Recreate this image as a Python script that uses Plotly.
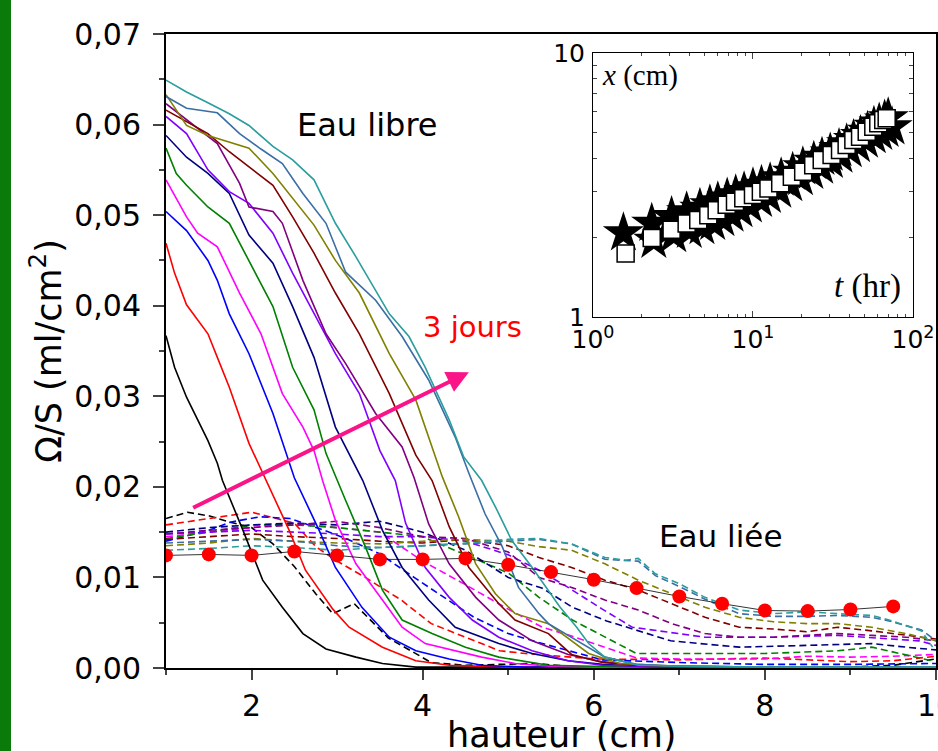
import plotly.graph_objects as go

# ---------------- main chart data ----------------
colors = ["#000000", "#ff0000", "#0000ff", "#ff00ff", "#008000", "#000080",
          "#8000ff", "#800080", "#800000", "#808000", "#3a6ea5", "#2a9d9d"]

solid_x = [
    [1.0,1.10,1.24,1.37,1.49,1.60,1.66,1.90,2.05,2.13,2.36,2.60,2.87,3.22,3.53,3.92,4.5,5,6,7,8,9,10],
    [1.0,1.10,1.24,1.49,1.60,1.74,1.97,2.16,2.44,2.63,2.95,3.14,3.53,3.92,4.31,5,6,7,8,9,10],
    [1.0,1.24,1.49,1.60,1.74,1.97,2.25,2.50,2.79,2.98,3.29,3.61,3.92,4.31,4.69,5.2,6,7,8,9,10],
    [1.0,1.24,1.37,1.60,1.86,2.11,2.36,2.60,2.73,2.83,2.98,3.22,3.53,3.76,4.03,4.38,4.69,5.08,5.5,6,7,8,9,10],
    [1.0,1.12,1.24,1.49,1.74,1.97,2.25,2.48,2.73,2.87,3.0,3.10,3.33,3.53,3.76,4.11,4.50,4.89,5.47,6,7,8,9,10],
    [1.0,1.24,1.49,1.74,1.97,2.25,2.48,2.73,2.98,3.30,3.53,3.76,4.07,4.38,4.89,5.28,5.7,6.1,6.5,7,8,9,10],
    [1.0,1.24,1.49,1.74,1.97,2.25,2.48,2.73,2.98,3.26,3.50,3.68,3.80,4.03,4.31,4.58,4.89,5.28,5.7,6.1,6.5,7,8,9,10],
    [1.0,1.24,1.60,1.86,1.97,2.25,2.36,2.60,2.87,3.10,3.45,3.76,3.90,4.07,4.31,4.62,4.89,5.28,5.7,6.1,6.5,7,8,9,10],
    [1.0,1.24,1.49,1.74,1.97,2.25,2.48,2.73,2.98,3.26,3.61,3.92,4.11,4.31,4.54,4.89,5.08,5.47,5.74,6.1,6.5,7,8,9,10],
    [1.0,1.24,1.49,1.74,1.97,2.25,2.48,2.73,2.98,3.26,3.61,3.92,4.23,4.42,4.62,4.85,5.08,5.47,5.94,6.3,7,8,9,10],
    [1.0,1.24,1.60,1.86,2.11,2.36,2.60,2.87,3.10,3.45,3.76,4.07,4.38,4.54,4.73,4.93,5.12,5.36,5.47,5.74,6.13,6.5,7,8,9,10],
    [1.0,1.24,1.49,1.74,1.97,2.25,2.48,2.73,2.98,3.22,3.61,3.84,4.03,4.31,4.48,4.69,4.85,5.04,5.28,5.47,5.6,5.8,5.94,6.13,6.52,7,8,9,10],
]
solid_y = [
    [0.0367,0.0332,0.0299,0.0274,0.0251,0.0226,0.0207,0.0152,0.0115,0.0097,0.0067,0.0038,0.0021,0.0012,0.0005,0.0001,0.0001,0.0001,0.0001,0.0001,0.0001,0.0001,0.0001],
    [0.0469,0.0436,0.0401,0.0369,0.0343,0.0310,0.0248,0.0209,0.0152,0.0108,0.0065,0.0045,0.0023,0.0008,0.0003,0.0001,0.0001,0.0001,0.0001,0.0001,0.0001],
    [0.0504,0.0483,0.0450,0.0428,0.0391,0.0347,0.0281,0.0210,0.0152,0.0111,0.0067,0.0034,0.0019,0.0010,0.0003,0.0001,0.0001,0.0001,0.0001,0.0001,0.0001],
    [0.0539,0.0498,0.0480,0.0465,0.0414,0.0369,0.0303,0.0266,0.0240,0.0207,0.0163,0.0115,0.0075,0.0045,0.0027,0.0019,0.0012,0.0005,0.0002,0.0001,0.0001,0.0001,0.0001,0.0001],
    [0.0574,0.0546,0.0533,0.0509,0.0491,0.0450,0.0399,0.0332,0.0285,0.0237,0.0207,0.0185,0.0134,0.0086,0.0053,0.0038,0.0023,0.0012,0.0003,0.0002,0.0001,0.0001,0.0001,0.0001],
    [0.0588,0.0564,0.0546,0.0524,0.0478,0.0447,0.0399,0.0343,0.0266,0.0207,0.0152,0.0111,0.0075,0.0045,0.0027,0.0016,0.0008,0.0004,0.0002,0.0001,0.0001,0.0001,0.0001],
    [0.0609,0.0590,0.0550,0.0526,0.0513,0.0480,0.0436,0.0391,0.0347,0.0303,0.0240,0.0207,0.0160,0.0111,0.0078,0.0053,0.0034,0.0019,0.0008,0.0003,0.0002,0.0001,0.0001,0.0001,0.0001],
    [0.0623,0.0605,0.0579,0.0535,0.0509,0.0504,0.0491,0.0428,0.0369,0.0336,0.0281,0.0244,0.0210,0.0159,0.0115,0.0078,0.0053,0.0030,0.0015,0.0007,0.0003,0.0002,0.0001,0.0001,0.0001],
    [0.0616,0.0603,0.0590,0.0570,0.0553,0.0533,0.0498,0.0458,0.0414,0.0369,0.0303,0.0235,0.0207,0.0156,0.0111,0.0071,0.0053,0.0038,0.0015,0.0006,0.0003,0.0002,0.0001,0.0001,0.0001],
    [0.0633,0.0599,0.0588,0.0581,0.0574,0.0546,0.0519,0.0489,0.0450,0.0414,0.0347,0.0296,0.0211,0.0167,0.0115,0.0082,0.0060,0.0049,0.0016,0.0005,0.0002,0.0001,0.0001,0.0001],
    [0.0631,0.0618,0.0613,0.0590,0.0573,0.0557,0.0524,0.0491,0.0437,0.0406,0.0366,0.0318,0.0255,0.0215,0.0170,0.0134,0.0089,0.0060,0.0049,0.0034,0.0012,0.0004,0.0002,0.0001,0.0001,0.0001],
    [0.0649,0.0636,0.0624,0.0612,0.0599,0.0576,0.0561,0.0539,0.0491,0.0454,0.0391,0.0366,0.0332,0.0274,0.0233,0.0207,0.0178,0.0141,0.0111,0.0086,0.0068,0.0045,0.0027,0.0012,0.0003,0.0002,0.0001,0.0001,0.0001],
]

dashed_x = [
    [1,1.25,1.5,1.75,2,2.25,2.5,2.75,2.95,3.2,3.4,3.6,3.9,4.1,4.5,5,5.3,5.7,6,7,8,9,9.5,10],
    [1,1.5,2,2.5,2.75,3,3.33,3.75,4.1,4.5,4.9,5.2,6,7,8,9,9.5,10],
    [1,1.5,1.75,2.1,2.45,2.85,3.15,3.5,3.9,4.3,4.6,5.0,5.4,6.1,7,8,9,10],
    [1,1.5,2,2.5,3,3.5,4,4.5,5,5.4,5.75,6.5,7,8,8.5,9,9.5,10],
    [1,1.5,2,2.5,3,3.5,4,4.5,5,5.36,5.75,6.5,7,8,8.85,9.25,9.95],
    [1,1.5,2,2.5,3,3.5,4,4.5,5,5.4,5.75,6.15,6.9,7.7,8.5,9.25,9.65,10],
    [1,1.5,2,2.5,3,3.5,4,4.5,5,5.36,5.7,6.1,6.45,7.3,8.1,8.85,9.8,10],
    [1,1.5,2,2.5,3,3.5,4,4.5,5,5.36,5.74,6.13,6.52,6.91,7.3,7.7,8.1,8.5,8.85,9.25,9.65,10],
    [1,1.5,2,2.5,3,3.5,4,4.5,5,5.36,5.74,6.13,6.52,6.91,7.3,7.7,8.1,8.5,8.85,9.25,9.65,10],
    [1,1.5,2,2.5,3,3.5,4,4.5,5,5.36,5.74,6.13,6.52,6.91,7.3,7.7,8.1,8.5,8.85,9.25,9.65,10],
    [1,1.5,2,2.5,3,3.5,4,4.5,5,5.36,5.74,6.13,6.52,6.72,7,7.3,7.7,8.1,8.5,8.85,9.25,9.45,9.83,10],
    [1,1.5,2,2.5,3,3.5,4,4.5,5,5.36,5.74,6.13,6.37,6.52,6.72,7,7.3,7.7,8.1,8.5,8.85,9.25,9.45,9.83,9.96],
]
dashed_y = [
    [0.0165,0.0172,0.0168,0.0161,0.0155,0.0137,0.0112,0.0082,0.0060,0.0071,0.0052,0.0033,0.0017,0.0006,0.0003,0.0004,0.0005,0.0002,0.0001,0.0001,0.0001,0.0001,0.0003,0.0010],
    [0.0158,0.0165,0.0172,0.0160,0.0134,0.0118,0.0100,0.0075,0.0049,0.0034,0.0019,0.0016,0.0010,0.0009,0.0011,0.0007,0.0008,0.0013],
    [0.0140,0.0152,0.0161,0.0167,0.0165,0.0152,0.0141,0.0126,0.0100,0.0075,0.0056,0.0038,0.0027,0.0009,0.0006,0.0004,0.0004,0.0005],
    [0.0145,0.0150,0.0155,0.0160,0.0155,0.0150,0.0118,0.0092,0.0065,0.0045,0.0035,0.0011,0.0010,0.0010,0.0013,0.0012,0.0013,0.0015],
    [0.0143,0.0150,0.0158,0.0158,0.0155,0.0150,0.0145,0.0125,0.0105,0.0078,0.0053,0.0016,0.0016,0.0016,0.0019,0.0023,0.0008],
    [0.0150,0.0155,0.0158,0.0160,0.0158,0.0162,0.0150,0.0130,0.0100,0.0088,0.0067,0.0052,0.0030,0.0023,0.0025,0.0027,0.0023,0.0020],
    [0.0148,0.0150,0.0152,0.0150,0.0148,0.0145,0.0145,0.0140,0.0125,0.0108,0.0089,0.0065,0.0045,0.0034,0.0034,0.0036,0.0030,0.0025],
    [0.0148,0.0152,0.0155,0.0158,0.0162,0.0155,0.0145,0.0143,0.0128,0.0100,0.0089,0.0075,0.0064,0.0049,0.0038,0.0034,0.0034,0.0036,0.0038,0.0036,0.0034,0.0030],
    [0.0142,0.0145,0.0148,0.0145,0.0143,0.0140,0.0138,0.0142,0.0135,0.0122,0.0111,0.0097,0.0086,0.0071,0.0056,0.0045,0.0043,0.0040,0.0045,0.0041,0.0036,0.0032],
    [0.0135,0.0138,0.0143,0.0140,0.0138,0.0137,0.0140,0.0142,0.0140,0.0134,0.0130,0.0115,0.0097,0.0082,0.0067,0.0056,0.0051,0.0049,0.0049,0.0045,0.0038,0.0030],
    [0.0138,0.0140,0.0142,0.0140,0.0135,0.0133,0.0135,0.0137,0.0140,0.0142,0.0137,0.0120,0.0118,0.0102,0.0090,0.0076,0.0060,0.0057,0.0057,0.0058,0.0056,0.0052,0.0042,0.0030],
    [0.0130,0.0132,0.0135,0.0133,0.0130,0.0133,0.0135,0.0138,0.0142,0.0143,0.0137,0.0122,0.0119,0.0121,0.0104,0.0093,0.0078,0.0064,0.0060,0.0062,0.0060,0.0058,0.0053,0.0041,0.0023],
]

dots_x = [1, 1.5, 2, 2.5, 3, 3.5, 4, 4.5, 5, 5.5, 6, 6.5, 7, 7.5, 8, 8.5, 9, 9.5]
dots_y = [0.01243, 0.01254, 0.01243, 0.01287, 0.01243, 0.01199, 0.01199, 0.01210,
          0.01140, 0.01059, 0.00975, 0.00882, 0.00790, 0.00710, 0.00635, 0.00628,
          0.00646, 0.00680]

y_ticks = [0, 0.01, 0.02, 0.03, 0.04, 0.05, 0.06, 0.07]
x_ticks = [2, 4, 6, 8, 10]

# ---------------- inset data ----------------
t_sq = [1.6, 2.33, 3.1, 3.85, 4.55, 5.26, 5.93, 6.85, 7.72, 8.7, 10.0, 11.2, 12.5, 14.8,
        17.5, 20.6, 23.8, 26.9, 31.0, 35.0, 38.5, 42.4, 46.7, 51.4, 56.5, 60.7, 65.2, 68.5]
x_sq = [1.74, 1.99, 2.14, 2.26, 2.33, 2.43, 2.54, 2.66, 2.73, 2.82, 2.90, 2.98, 3.07, 3.21,
        3.40, 3.55, 3.76, 3.93, 4.11, 4.29, 4.48, 4.68, 4.82, 5.03, 5.26, 5.42, 5.57, 5.66]
t_star_up = [1.55, 2.33, 3.1, 3.85, 4.66, 5.38, 6.03, 6.9, 7.8, 8.8, 10.0, 11.3, 12.8, 15.0,
             17.7, 20.5, 24.0, 27.0, 30.4, 34.5, 38.5, 42.5, 47.0, 52.0, 57.0, 61.5, 66.5, 70.0]
x_star_up = [2.08, 2.26, 2.40, 2.50, 2.58, 2.66, 2.73, 2.82, 2.90, 2.98, 3.08, 3.15, 3.22, 3.36,
             3.53, 3.70, 3.88, 4.02, 4.17, 4.34, 4.52, 4.70, 4.86, 5.05, 5.27, 5.42, 5.57, 5.68]
t_star_low = [2.4, 3.2, 4.0, 4.8, 5.6, 6.4, 7.3, 8.3, 9.5, 11.0, 12.5, 14.5, 17.0, 19.8, 23.0,
              26.5, 30.5, 35.0, 40.0, 45.0, 50.5, 56.5, 62.0, 68.0, 74.0]
x_star_low = [1.95, 2.05, 2.13, 2.20, 2.28, 2.36, 2.45, 2.55, 2.66, 2.79, 2.89, 3.02, 3.20, 3.37,
              3.56, 3.73, 3.92, 4.10, 4.30, 4.50, 4.68, 4.86, 5.00, 5.13, 5.25]

SANS = "DejaVu Sans"
SERIF = "Liberation Serif"

fig = go.Figure()

for i, c in enumerate(colors):
    fig.add_trace(go.Scatter(x=dashed_x[i], y=dashed_y[i], mode="lines",
                             line=dict(color=c, width=1.6, dash="7px,4px"),
                             showlegend=False, hoverinfo="skip"))
for i, c in enumerate(colors):
    fig.add_trace(go.Scatter(x=solid_x[i], y=solid_y[i], mode="lines",
                             line=dict(color=c, width=1.6),
                             showlegend=False, hoverinfo="skip"))

fig.add_trace(go.Scatter(x=dots_x, y=dots_y, mode="lines+markers",
                         line=dict(color="#000000", width=0.8),
                         marker=dict(color="#ff0000", size=14, line=dict(width=0)),
                         showlegend=False))

# inset
fig.add_trace(go.Scatter(x=t_star_low, y=x_star_low, mode="markers", xaxis="x2", yaxis="y2",
                         marker=dict(symbol="star", size=31, color="#000000",
                                     line=dict(width=0)), showlegend=False))
fig.add_trace(go.Scatter(x=t_star_up, y=x_star_up, mode="markers", xaxis="x2", yaxis="y2",
                         marker=dict(symbol="star", size=31, color="#000000",
                                     line=dict(width=0)), showlegend=False))
fig.add_trace(go.Scatter(x=t_sq, y=x_sq, mode="markers", xaxis="x2", yaxis="y2",
                         marker=dict(symbol="square", size=17, color="#ffffff",
                                     line=dict(width=1.5, color="#000000")), showlegend=False))

fig.update_layout(
    width=938, height=751,
    margin=dict(l=166, r=2, t=34, b=83, autoexpand=False),
    paper_bgcolor="white", plot_bgcolor="white",
    separators=", ",
    font=dict(family=SANS, color="black"),
    xaxis=dict(range=[1, 10], tickvals=x_ticks, ticks="outside", ticklen=10, tickwidth=2,
               showline=True, linewidth=2, linecolor="black", mirror=True, automargin=False,
               showgrid=False, zeroline=False, tickfont=dict(size=30, family=SANS),
               ticklabeloverflow="allow",
               minor=dict(dtick=1, tick0=1, ticks="outside", ticklen=5, tickwidth=2, showgrid=False)),
    yaxis=dict(range=[0, 0.07], tickvals=y_ticks, tickformat=".2f", ticks="outside",
               ticklen=11, tickwidth=2, showline=True, linewidth=2, linecolor="black",
               mirror=True, showgrid=False, zeroline=False, automargin=False,
               tickfont=dict(size=30, family=SANS), ticklabelstandoff=6,
               minor=dict(dtick=0.005, tick0=0, ticks="outside", ticklen=5, tickwidth=2, showgrid=False),
               title=dict(text="Ω/S (ml/cm<sup>2</sup>)", font=dict(size=35, family=SANS), standoff=2)),
    xaxis2=dict(type="log", range=[0, 2], domain=[0.5545, 0.9701], anchor="y2", automargin=False,
                tickvals=[1, 10, 100], ticktext=["10<sup>0</sup>", "10<sup>1</sup>", "10<sup>2</sup>"],
                ticks="inside", ticklen=6, tickwidth=1, showline=True, linewidth=1,
                linecolor="black", mirror="allticks", showgrid=False, zeroline=False,
                tickfont=dict(size=25, family=SANS), ticklabelstandoff=0,
                ticklabeloverflow="allow",
                minor=dict(tickvals=[2, 3, 4, 5, 6, 7, 8, 9, 20, 30, 40, 50, 60, 70, 80, 90],
                           ticks="inside", ticklen=3, tickwidth=1, showgrid=False)),
    yaxis2=dict(type="log", range=[0, 1], domain=[0.5536, 0.970], anchor="x2", automargin=False,
                tickvals=[1, 10], ticktext=["1", "10"],
                ticks="inside", ticklen=6, tickwidth=1, showline=True, linewidth=1,
                linecolor="black", mirror="allticks", showgrid=False, zeroline=False,
                tickfont=dict(size=25, family=SANS), ticklabelstandoff=2,
                minor=dict(tickvals=[2, 3, 4, 5, 6, 7, 8, 9],
                           ticks="inside", ticklen=4, tickwidth=1, showgrid=False)),
    shapes=[dict(type="rect", xref="paper", yref="paper", x0=-0.2156, x1=-0.2013,
                 y0=-0.14, y1=1.06, fillcolor="#0a7b0a", line=dict(width=0), layer="above")],
    annotations=[
        dict(x=0.513, y=-0.071, xref="paper", yref="paper", xanchor="center", yanchor="top",
             text="hauteur (cm)", showarrow=False, font=dict(size=35, family=SANS, color="black")),
        dict(x=3.357, y=0.0600, xref="x", yref="y", text="Eau libre", showarrow=False,
             font=dict(size=32, family=SANS, color="black")),
        dict(x=7.483, y=0.01457, xref="x", yref="y", text="Eau liée", showarrow=False,
             font=dict(size=31, family=SANS, color="black")),
        dict(x=4.585, y=0.03765, xref="x", yref="y", text="3 jours", showarrow=False,
             font=dict(size=29, family=SANS, color="#ff0000")),
        dict(x=4.54, y=0.03265, xref="x", yref="y", ax=1.30, ay=0.01762, axref="x", ayref="y",
             text="", showarrow=True, arrowhead=2, arrowsize=1.1, arrowwidth=4,
             arrowcolor="#fa1488"),
        dict(x=0.5636, y=0.9353, xref="paper", yref="paper", xanchor="left", yanchor="middle",
             text="<i>x</i> (cm)", showarrow=False, font=dict(size=29, family=SERIF, color="black")),
        dict(x=0.957, y=0.601, xref="paper", yref="paper", xanchor="right", yanchor="middle",
             text="<i>t</i> (hr)", showarrow=False, font=dict(size=33, family=SERIF, color="black")),
    ],
)

fig.write_html("out.html")
